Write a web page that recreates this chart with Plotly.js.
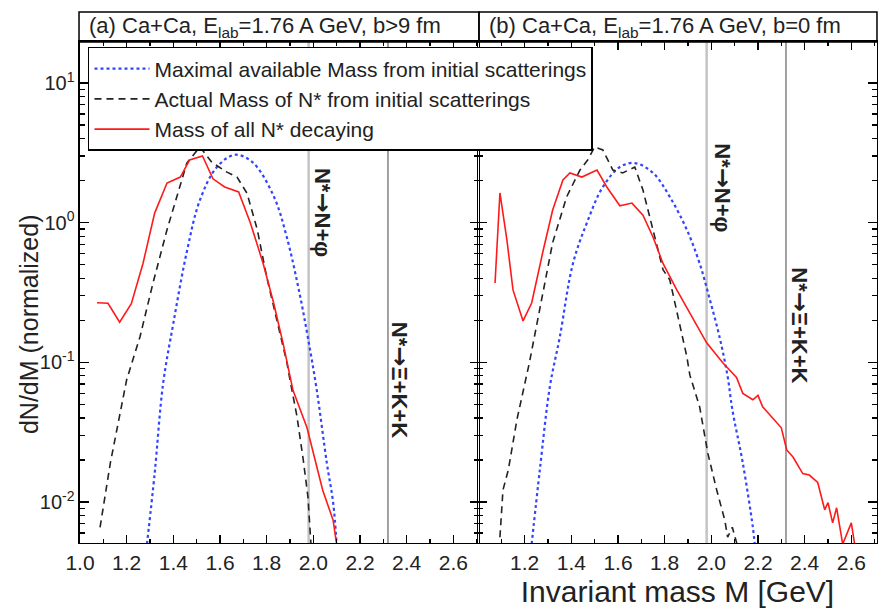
<!DOCTYPE html>
<html>
<head>
<meta charset="utf-8">
<script src="https://cdn.plot.ly/plotly-3.0.1.min.js"></script>
<style>html,body{margin:0;padding:0;background:#fff;}#chart{width:879px;height:613px;}</style>
</head>
<body>
<div id="chart"></div>
<script>
// ---- Data ----
var seriesNames = [
  "Maximal available Mass from initial scatterings",
  "Actual Mass of N* from initial scatterings",
  "Mass of all N* decaying"
];
var panelTitles = [
  "(a) Ca+Ca, E<sub>lab</sub>=1.76 A GeV, b>9 fm",
  "(b) Ca+Ca, E<sub>lab</sub>=1.76 A GeV, b=0 fm"
];
var thresholdMasses = [1.98, 2.32];
var thresholdLabels = ["N*<span style=\"font-family:'DejaVu Sans';font-size:24px\">→</span>N+φ", "N*<span style=\"font-family:'DejaVu Sans';font-size:24px\">→</span>Ξ+K+K"];

// panel (a) b>9 fm
var aMaxX = [1.287,1.32,1.356,1.40,1.458,1.514,1.587,1.664,1.74,1.83,1.887,1.943,1.977,2.015,2.058,2.085,2.10];
var aMaxY = [0.005,0.016,0.07,0.19,0.62,1.45,2.5,3.06,2.7,1.55,0.78,0.3,0.15,0.063,0.019,0.0099,0.005];
var aActX = [1.086,1.13,1.20,1.257,1.313,1.373,1.415,1.458,1.514,1.565,1.63,1.673,1.716,1.76,1.80,1.845,1.887,1.90,1.93,1.957,1.977,1.99];
var aActY = [0.0066,0.019,0.075,0.152,0.37,0.89,1.53,2.67,3.48,2.7,2.3,2.12,1.62,0.89,0.41,0.2,0.099,0.075,0.041,0.02,0.0109,0.005];
var aDecX = [1.073,1.12,1.17,1.22,1.27,1.32,1.373,1.43,1.47,1.525,1.57,1.62,1.68,1.73,1.785,1.83,1.87,1.90,1.913,1.973,2.0,2.04,2.085,2.10];
var aDecY = [0.267,0.265,0.194,0.263,0.51,1.17,1.92,2.12,2.81,3.0,2.06,1.80,1.66,1.0,0.51,0.266,0.138,0.078,0.063,0.034,0.0224,0.0122,0.0074,0.005];

// panel (b) b=0 fm
var bMaxX = [1.23,1.265,1.308,1.35,1.407,1.467,1.535,1.608,1.672,1.75,1.822,1.895,1.95,1.994,2.036,2.07,2.09,2.135,2.178,2.186];
var bMaxY = [0.005,0.017,0.067,0.15,0.51,1.0,1.8,2.5,2.67,2.27,1.53,0.89,0.51,0.28,0.15,0.079,0.046,0.019,0.0066,0.005];
var bActX = [1.094,1.107,1.13,1.167,1.22,1.265,1.32,1.38,1.437,1.47,1.50,1.535,1.578,1.62,1.672,1.707,1.75,1.793,1.822,1.857,1.895,1.908,1.95,1.985,2.023,2.058,2.07,2.09,2.11];
var bActY = [0.0056,0.0122,0.017,0.039,0.099,0.237,0.72,1.53,2.38,2.81,3.48,3.31,2.38,2.27,2.5,1.71,0.89,0.46,0.39,0.21,0.11,0.081,0.048,0.0224,0.0122,0.0074,0.0056,0.0066,0.005];
var bDecX = [1.073,1.094,1.124,1.15,1.193,1.23,1.28,1.32,1.364,1.394,1.445,1.51,1.552,1.608,1.66,1.707,1.75,1.793,1.852,1.908,1.98,2.05,2.108,2.135,2.178,2.2,2.22,2.30,2.323,2.35,2.392,2.42,2.456,2.486,2.5,2.52,2.537,2.563,2.60,2.615];
var bDecY = [0.37,1.63,0.75,0.33,0.198,0.266,0.64,1.23,2.02,2.27,2.12,2.38,1.8,1.32,1.38,1.13,0.79,0.51,0.33,0.226,0.138,0.099,0.078,0.06,0.054,0.058,0.048,0.034,0.0236,0.021,0.016,0.0156,0.0138,0.0088,0.0099,0.0071,0.0091,0.005,0.0071,0.0049];

var xTickVals = [1.0,1.2,1.4,1.6,1.8,2.0,2.2,2.4,2.6];
var yTickVals = [0.01,0.1,1,10];
var yTickText = ["10<sup>-2</sup>","10<sup>-1</sup>","10<sup>0</sup>","10<sup>1</sup>"];

// ---- Build ----
var FONT = "Liberation Sans, Arial, Helvetica, sans-serif";
var styles = [
  {color:"#3344ff", width:2.2, dash:"dot"},
  {color:"#222222", width:1.6, dash:"7px,5px"},
  {color:"#ff1a1a", width:1.6, dash:"solid"}
];
var panels = [
  {xs:[aMaxX,aActX,aDecX], ys:[aMaxY,aActY,aDecY], xa:"x", ya:"y"},
  {xs:[bMaxX,bActX,bDecX], ys:[bMaxY,bActY,bDecY], xa:"x2", ya:"y2"}
];
var traces = [];
panels.forEach(function(p, pi){
  for (var i=0;i<3;i++){
    traces.push({
      type:"scatter", mode:"lines", x:p.xs[i], y:p.ys[i],
      xaxis:p.xa, yaxis:p.ya, name:seriesNames[i],
      showlegend: pi===0,
      line:{color:styles[i].color, width:styles[i].width, dash:styles[i].dash, shape:(i===0?"spline":"linear")}
    });
  }
});

var minorY = [];
[0.001,0.01,0.1,1,10].forEach(function(d){ for (var k=2;k<=9;k++) minorY.push(+(d*k).toPrecision(3)); });

function xAxis(dom, showFirst){
  var tv = showFirst ? xTickVals : xTickVals.slice(1);
  return {
    domain:dom, range:[1.0,2.71], showgrid:false, zeroline:false,
    showline:true, linecolor:"#000", linewidth:1.5, mirror:"ticks",
    ticks:"inside", ticklen:8, tickwidth:1.3, tickcolor:"#000",
    tickmode:"array", tickvals:tv, ticktext:tv.map(function(v){return v.toFixed(1);}),
    tickfont:{size:21, color:"#222", family:FONT},
    minor:{dtick:0.1, tick0:1.0, ticks:"inside", ticklen:4, tickwidth:1.2, tickcolor:"#000", showgrid:false}
  };
}
function yAxis(anchor, labels){
  return {
    type:"log", domain:[0.1142,0.9315], range:[-2.293,1.293], anchor:anchor,
    showgrid:false, zeroline:false, showline:true, linecolor:"#000", linewidth:1.5, mirror:"ticks",
    ticks:"inside", ticklen:9, tickwidth:1.3, tickcolor:"#000",
    tickmode:"array", tickvals:yTickVals, ticktext:yTickText, showticklabels:labels,
    tickfont:{size:20, color:"#222", family:FONT},
    minor:{tickmode:"array", tickvals:minorY, ticks:"inside", ticklen:5, tickwidth:1.2, tickcolor:"#000", showgrid:false}
  };
}

var xa1 = xAxis([0.0910,0.5449], true); xa1.anchor="y";
var xa2 = xAxis([0.5438,0.9977], false); xa2.anchor="y2";
xa2.title = {text:"Invariant mass M [GeV]", font:{size:30, color:"#222", family:FONT}, standoff:8};
var ya1 = yAxis("x", true);
var ya2 = yAxis("x2", false);

var shapes = [];
var annotations = [];
// y-axis title (placed as annotation for exact vertical position)
annotations.push({xref:"paper", yref:"paper", x:0.033, y:0.4714, xanchor:"center", yanchor:"middle",
  text:"dN/dM (normalized)", textangle:-90, showarrow:false, font:{size:25, color:"#222", family:FONT}});
// title boxes
[[0.0899,0.5449],[0.5449,0.9977]].forEach(function(b, i){
  shapes.push({type:"rect", xref:"paper", yref:"paper", x0:b[0], x1:b[1], y0:0.9315, y1:0.9804,
               line:{color:"#000", width:1.5}, fillcolor:"rgba(0,0,0,0)"});
  annotations.push({xref:"paper", yref:"paper", x:b[0]+0.009, y:0.956, xanchor:"left", yanchor:"middle",
                    text:panelTitles[i], showarrow:false, font:{size:22, color:"#222", family:FONT}});
});
// threshold lines
var lineStyles = [{color:"#c4c4c4", width:2.5},{color:"#8a8a8a", width:1.6}];
["x","x2"].forEach(function(xr, pi){
  var yr = pi===0 ? "y" : "y2";
  thresholdMasses.forEach(function(m, j){
    shapes.push({type:"line", xref:xr, yref:yr+" domain", x0:m, x1:m, y0:0, y1:1, line:lineStyles[j], layer:"below"});
  });
});
var labelPos = [
  [{x:2.042, y:1.19},{x:2.372, y:0.0748}],
  [{x:2.049, y:1.77},{x:2.379, y:0.185}]
];
["x","x2"].forEach(function(xr, pi){
  var yr = pi===0 ? "y" : "y2";
  thresholdLabels.forEach(function(t, j){
    annotations.push({xref:xr, yref:yr, x:labelPos[pi][j].x, y:Math.log10(labelPos[pi][j].y),
      text:"<b>"+t+"</b>", textangle:90, showarrow:false, xanchor:"center", yanchor:"middle",
      font:{size:22, color:"#222", family:FONT}});
  });
});

var layout = {
  width:879, height:613, margin:{l:0,r:0,t:0,b:0},
  paper_bgcolor:"#fff", plot_bgcolor:"rgba(0,0,0,0)",
  font:{family:FONT, color:"#222"},
  xaxis:xa1, xaxis2:xa2, yaxis:ya1, yaxis2:ya2,
  showlegend:true,
  legend:{x:0.1001, y:0.9235, xanchor:"left", yanchor:"top", bgcolor:"#fff",
          bordercolor:"#000", borderwidth:1.5, font:{size:21, color:"#222", family:FONT},
          itemwidth:55, tracegroupgap:0},
  shapes:shapes, annotations:annotations
};
Plotly.newPlot("chart", traces, layout, {staticPlot:true, displayModeBar:false});
</script>
</body>
</html>
